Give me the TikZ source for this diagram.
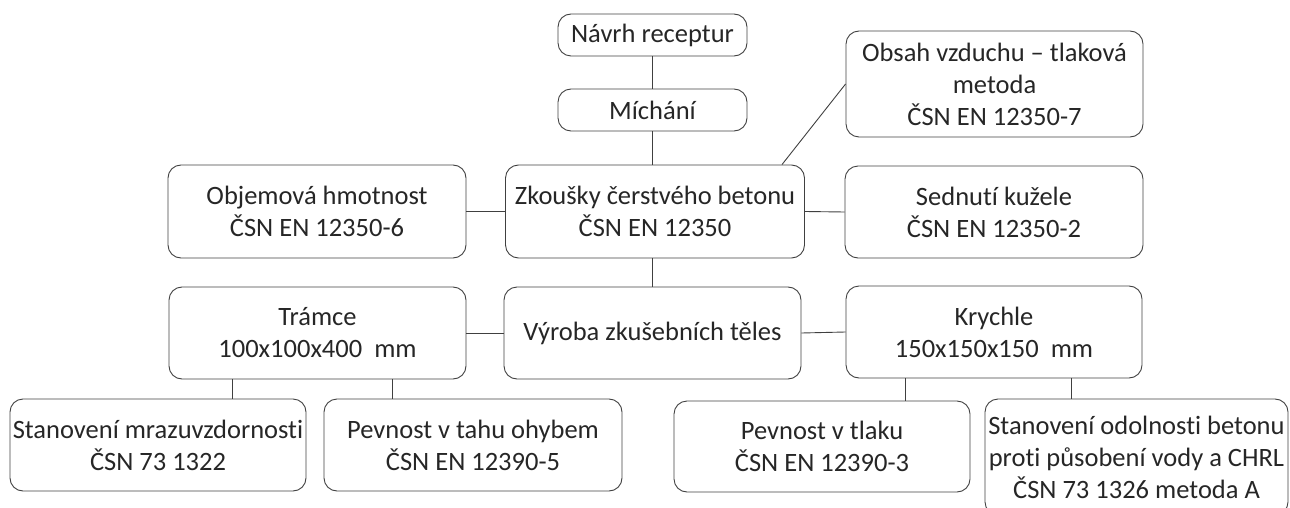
\documentclass[tikz,border=0pt]{standalone}
\usepackage{fontspec}
\setmainfont[Ligatures={NoCommon}]{Carlito}
\usepackage{tikz}
\usetikzlibrary{positioning,calc}

\tikzset{
  blok/.style={draw=black!75, line width=0.9pt, rounded corners=13pt, align=center,
    inner sep=0pt, text=black!85, font=\fontsize{26.5}{32}\selectfont},
  spoj/.style={draw=black!75, line width=0.9pt}
}

\begin{document}
\begin{tikzpicture}[x=1pt,y=-1pt]
  \useasboundingbox (0,0) rectangle (1290,508);

  % Top chain
  \node[blok, minimum width=189pt, minimum height=42pt] (navrh) at (652.5,35) {Návrh receptur};
  \node[blok, minimum width=189pt, minimum height=42pt] (michani) at (652.5,110) {Míchání};
  \node[blok, minimum width=297pt, minimum height=106pt] (obsah) at (994.5,84) {Obsah vzduchu -- tlaková\\metoda\\ČSN EN 12350-7};

  % Fresh concrete tests
  \node[blok, minimum width=298pt, minimum height=93pt] (objem) at (317,211.5) {Objemová hmotnost\\ČSN EN 12350-6};
  \node[blok, minimum width=299pt, minimum height=93pt] (zkousky) at (655,211.5) {Zkoušky čerstvého betonu\\ČSN EN 12350};
  \node[blok, minimum width=298pt, minimum height=92pt] (sednuti) at (994,212) {Sednutí kužele\\ČSN EN 12350-2};

  % Specimens
  \node[blok, minimum width=297pt, minimum height=92pt] (tramce) at (317.5,333) {Trámce\\100x100x400\ \ mm};
  \node[blok, minimum width=297pt, minimum height=92pt] (vyroba) at (652.5,333) {Výroba zkušebních těles};
  \node[blok, minimum width=296pt, minimum height=92pt] (krychle) at (994,332) {Krychle\\150x150x150\ \ mm};

  % Hardened concrete tests
  \node[blok, minimum width=296pt, minimum height=92pt] (mraz) at (158,445) {Stanovení mrazuvzdornosti\\ČSN 73 1322};
  \node[blok, minimum width=298pt, minimum height=92pt] (tah) at (473,445) {Pevnost v tahu ohybem\\ČSN EN 12390-5};
  \node[blok, minimum width=296pt, minimum height=91pt] (tlak) at (822,446.5) {Pevnost v tlaku\\ČSN EN 12390-3};
  \node[blok, minimum width=303pt, minimum height=116pt] (odolnost) at (1136.5,457) {Stanovení odolnosti betonu\\proti působení vody a CHRL\\ČSN 73 1326 metoda A};

  % Connectors
  \draw[spoj] (navrh.south) -- (michani.north);
  \draw[spoj] (michani.south) -- (michani.south |- zkousky.north);
  \draw[spoj] ([xshift=127pt]zkousky.north) -- (obsah.west);
  \draw[spoj] (objem.east) -- (zkousky.west);
  \draw[spoj] (zkousky.east) -- (sednuti.west);
  \draw[spoj] (vyroba.north |- zkousky.south) -- (vyroba.north);
  \draw[spoj] (tramce.east) -- (vyroba.west);
  \draw[spoj] (vyroba.east) -- (krychle.west);
  \draw[spoj] ([xshift=-85.5pt]tramce.south) -- ([xshift=-85.5pt]tramce.south |- mraz.north);
  \draw[spoj] ([xshift=74.5pt]tramce.south) -- ([xshift=74.5pt]tramce.south |- tah.north);
  \draw[spoj] ([xshift=-89pt]krychle.south) -- ([xshift=-89pt]krychle.south |- tlak.north);
  \draw[spoj] ([xshift=77pt]krychle.south) -- ([xshift=77pt]krychle.south |- odolnost.north);
\end{tikzpicture}
\end{document}
